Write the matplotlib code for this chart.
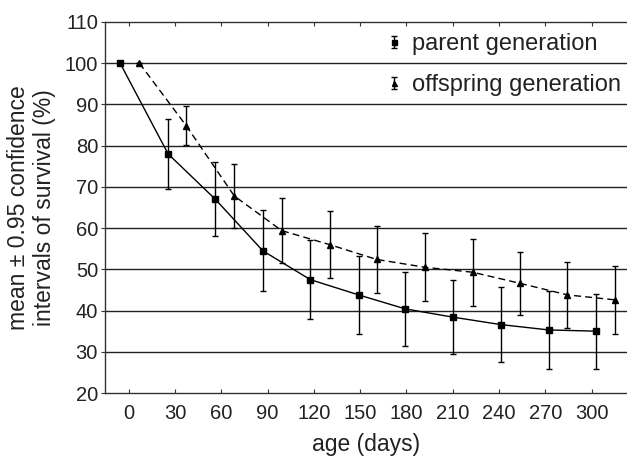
import matplotlib
matplotlib.use("Agg")
import matplotlib.pyplot as plt
from matplotlib.legend_handler import HandlerErrorbar

plt.rcParams["font.family"] = ["Liberation Sans", "DejaVu Sans"]

# x positions (points are shifted around each age tick)
ages = [0, 30, 60, 90, 120, 150, 180, 210, 240, 270, 300]
parent_x = [-5.6, 25.5, 56.1, 86.9, 117.7, 149.0, 179.3, 210.2, 241.1, 272.2, 302.6]
parent_y = [100, 78.0, 67.0, 54.5, 47.5, 43.8, 40.4, 38.4, 36.6, 35.3, 35.0]
parent_err = [0, 8.5, 9.0, 9.8, 9.6, 9.5, 9.0, 9.0, 9.2, 9.4, 9.1]

offspring_x = [6.9, 37.3, 68.4, 99.1, 130.2, 160.7, 192.0, 222.9, 253.7, 284.4, 315.0]
offspring_y = [100, 84.8, 67.8, 59.4, 56.0, 52.4, 50.5, 49.3, 46.6, 43.8, 42.6]
offspring_err = [0, 4.7, 7.8, 7.9, 8.1, 8.2, 8.2, 8.1, 7.6, 8.0, 8.3]

yticks = [20, 30, 40, 50, 60, 70, 80, 90, 100, 110]

fig = plt.figure(figsize=(6.27, 4.61), dpi=100)
ax = fig.add_axes([0.1675, 0.1475, 0.8325, 0.8048])

for y in yticks[1:-1]:
    ax.axhline(y, color="#222222", lw=1.0, zorder=1)

ax.plot(parent_x, parent_y, "-", color="black", lw=1.0, zorder=2)
ax.plot(offspring_x, offspring_y, "--", color="black", lw=1.0,
        dashes=(5, 3), zorder=2)

ax.errorbar(parent_x, parent_y, yerr=parent_err, fmt="s", color="black",
            ms=4.5, elinewidth=1.0, capsize=2.5, capthick=1.0,
            label="parent generation", zorder=3)
ax.errorbar(offspring_x, offspring_y, yerr=offspring_err, fmt="^",
            color="black", ms=4.5, elinewidth=1.0, capsize=2.5,
            capthick=1.0, label="offspring generation", zorder=3)

ax.set_xlim(-15.4, 323)
ax.set_ylim(20, 110)
ax.set_xticks(ages)
ax.set_yticks(yticks)

ax.spines["right"].set_visible(False)
for s in ["left", "bottom", "top"]:
    ax.spines[s].set_color("#333333")
    ax.spines[s].set_linewidth(1.0)

ax.tick_params(axis="x", direction="in", length=3, top=True,
               labelsize=14.5, pad=8, color="#333333", labelcolor="#222222")
ax.tick_params(axis="y", direction="out", length=3, labelsize=14.5,
               pad=2, color="#333333", labelcolor="#222222")

ax.set_xlabel("age (days)", fontsize=16.5, labelpad=7, color="#222222")
ax.set_ylabel("mean \u00b1 0.95 confidence\nintervals of survival (%)",
              fontsize=16.5, labelpad=6, color="#222222")

leg = ax.legend(loc="upper left", bbox_to_anchor=(0.542, 0.969),
                frameon=False, fontsize=17, handlelength=0.5,
                handletextpad=0.5, labelspacing=0.8, markerscale=0.8,
                borderaxespad=0, borderpad=0,
                handler_map={type(ax.containers[0]): HandlerErrorbar(yerr_size=0.25)})
for t in leg.get_texts():
    t.set_color("#222222")

fig.savefig("out.png", dpi=100)
